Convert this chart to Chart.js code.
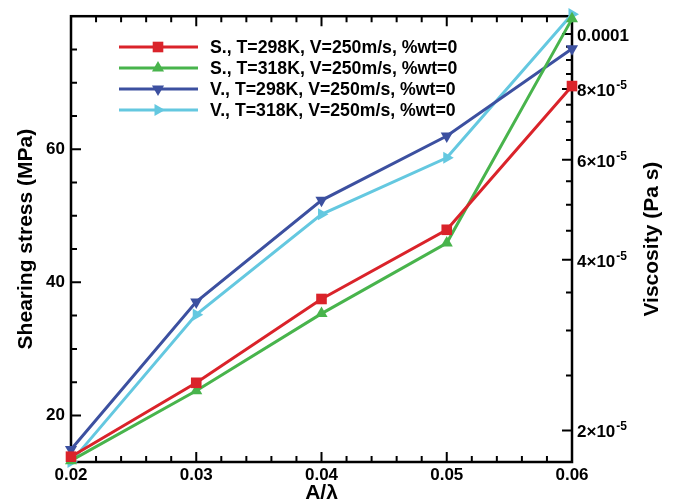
<!DOCTYPE html>
<html>
<head>
<meta charset="utf-8">
<script src="https://cdn.jsdelivr.net/npm/chart.js@4"></script>
<style>
  body { margin: 0; background: #fff; }
  canvas { display: block; }
</style>
</head>
<body>
<canvas id="grafico" width="677" height="502"></canvas>
<script>
// valores
const ratios = [0.02, 0.03, 0.04, 0.05, 0.06];
const stress298 = [13.8, 24.9, 37.5, 47.9, 69.5];
const stress318 = [13.2, 23.7, 35.3, 45.9, 79.6];
const visc298 = [1.85e-5, 3.37e-5, 5.09e-5, 6.61e-5, 9.42e-5];
const visc318 = [1.76e-5, 3.20e-5, 4.81e-5, 6.05e-5, 1.084e-4];

const seriesLabels = [
  "S., T=298K, V=250m/s, %wt=0",
  "S., T=318K, V=250m/s, %wt=0",
  "V., T=298K, V=250m/s, %wt=0",
  "V., T=318K, V=250m/s, %wt=0"
];

// ticks
const xTicks = [0.02, 0.03, 0.04, 0.05, 0.06];
const xMinorTicks = [0.022, 0.024, 0.026, 0.028, 0.032, 0.034, 0.036, 0.038, 0.042, 0.044, 0.046, 0.048, 0.052, 0.054, 0.056, 0.058];
const leftTicks = [20, 40, 60];
const leftMinorTicks = [25, 30, 35, 45, 50, 55, 65, 70, 75];
const rightTicks = [2e-5, 4e-5, 6e-5, 8e-5, 1e-4];
const rightTickBase = ["2×10", "4×10", "6×10", "8×10", "0.0001"];
const rightTickExp = ["-5", "-5", "-5", "-5", ""];
const rightMinorTicks = [2.5e-5, 3e-5, 3.5e-5, 4.5e-5, 5e-5, 5.5e-5, 6.5e-5, 7e-5, 7.5e-5, 8.5e-5, 9e-5, 9.5e-5];

const rojo = "rgb(218, 35, 42)";
const verde = "rgb(72, 180, 76)";
const azul = "rgb(60, 80, 160)";
const celeste = "rgb(100, 200, 224)";

const fuente = "'Liberation Sans', Arial, Helvetica, sans-serif";

function puntos(valores) {
  return ratios.map((r, i) => ({ x: r, y: valores[i] }));
}

function serie(label, valores, color, estilo, rot, radio, eje) {
  return {
    label: label,
    data: puntos(valores),
    yAxisID: eje,
    borderColor: color,
    backgroundColor: color,
    borderWidth: 3,
    pointStyle: estilo,
    pointRotation: rot,
    pointRadius: radio,
    pointBorderWidth: 0,
    pointBackgroundColor: color,
    tension: 0,
    clip: false
  };
}

const datasets = [
  serie(seriesLabels[0], stress298, rojo, "rect", 0, 7.5, "y"),
  serie(seriesLabels[1], stress318, verde, "triangle", 0, 7, "y"),
  serie(seriesLabels[2], visc298, azul, "triangle", 180, 7, "y1"),
  serie(seriesLabels[3], visc318, celeste, "triangle", 90, 7, "y1")
];

// marco, ticks hacia adentro, etiquetas del eje derecho, leyenda
const extras = {
  id: "extras",
  beforeDatasetsDraw(chart) {
    const ctx = chart.ctx;
    const a = chart.chartArea;
    const sx = chart.scales.x, sy = chart.scales.y, sy1 = chart.scales.y1;
    ctx.save();
    ctx.strokeStyle = "#000";
    ctx.lineWidth = 2;
    ctx.beginPath();
    xTicks.forEach(v => {
      const px = sx.getPixelForValue(v);
      ctx.moveTo(px, a.bottom); ctx.lineTo(px, a.bottom - 10);
      ctx.moveTo(px, a.top); ctx.lineTo(px, a.top + 10);
    });
    xMinorTicks.forEach(v => {
      const px = sx.getPixelForValue(v);
      ctx.moveTo(px, a.bottom); ctx.lineTo(px, a.bottom - 6);
      ctx.moveTo(px, a.top); ctx.lineTo(px, a.top + 6);
    });
    leftTicks.forEach(v => {
      const py = sy.getPixelForValue(v);
      ctx.moveTo(a.left, py); ctx.lineTo(a.left + 10, py);
    });
    leftMinorTicks.forEach(v => {
      const py = sy.getPixelForValue(v);
      ctx.moveTo(a.left, py); ctx.lineTo(a.left + 6, py);
    });
    rightTicks.forEach(v => {
      const py = sy1.getPixelForValue(v);
      ctx.moveTo(a.right, py); ctx.lineTo(a.right - 10, py);
    });
    rightMinorTicks.forEach(v => {
      const py = sy1.getPixelForValue(v);
      ctx.moveTo(a.right, py); ctx.lineTo(a.right - 6, py);
    });
    ctx.stroke();
    ctx.lineWidth = 2.5;
    ctx.strokeRect(a.left, a.top, a.right - a.left, a.bottom - a.top);

    // etiquetas del eje derecho con exponente
    ctx.fillStyle = "#000";
    ctx.textAlign = "left";
    ctx.textBaseline = "alphabetic";
    rightTicks.forEach((v, i) => {
      const py = sy1.getPixelForValue(v);
      const x0 = a.right + 5;
      ctx.font = "bold 17px " + fuente;
      ctx.fillText(rightTickBase[i], x0, py + 7);
      const w = ctx.measureText(rightTickBase[i]).width;
      if (rightTickExp[i]) {
        ctx.font = "bold 12px " + fuente;
        ctx.fillText(rightTickExp[i], x0 + w + 1, py);
      }
    });

    // titulo del eje derecho, leido de abajo hacia arriba
    ctx.font = "bold 21px " + fuente;
    ctx.textAlign = "center";
    ctx.textBaseline = "middle";
    ctx.translate(652, (a.top + a.bottom) / 2);
    ctx.rotate(-Math.PI / 2);
    ctx.fillText("Viscosity (Pa s)", 0, 0);
    ctx.restore();
  },
  afterDatasetsDraw(chart) {
    const ctx = chart.ctx;
    const filas = [47, 68, 89, 110];
    ctx.save();
    chart.data.datasets.forEach((ds, i) => {
      const y = filas[i];
      ctx.strokeStyle = ds.borderColor;
      ctx.lineWidth = 3;
      ctx.beginPath();
      ctx.moveTo(119, y);
      ctx.lineTo(198, y);
      ctx.stroke();
      ctx.fillStyle = ds.borderColor;
      Chart.helpers.drawPoint(ctx, {
        pointStyle: ds.pointStyle,
        rotation: ds.pointRotation,
        radius: ds.pointRadius,
        borderWidth: 0
      }, 158, y);
      ctx.fillStyle = "#000";
      ctx.font = "bold 17.7px " + fuente;
      ctx.textAlign = "left";
      ctx.textBaseline = "middle";
      ctx.fillText(ds.label, 210, y + 1);
    });
    ctx.restore();
  }
};

const tickFont = { family: fuente, size: 17, weight: "bold" };

new Chart(document.getElementById("grafico"), {
  type: "line",
  data: { datasets: datasets },
  plugins: [extras],
  options: {
    responsive: false,
    animation: false,
    devicePixelRatio: 1,
    layout: { padding: { top: 12, left: 0, right: 0, bottom: 0 } },
    plugins: {
      legend: { display: false },
      tooltip: { enabled: false }
    },
    scales: {
      x: {
        type: "linear",
        position: "bottom",
        min: 0.02,
        max: 0.06,
        afterFit: s => { s.height = 40; },
        afterBuildTicks: s => { s.ticks = xTicks.map(v => ({ value: v })); },
        grid: { display: false, drawTicks: false },
        border: { display: false },
        ticks: {
          font: tickFont,
          color: "#000",
          padding: 3,
          maxRotation: 0,
          callback: v => v.toFixed(2)
        },
        title: {
          display: true,
          text: "A/λ",
          color: "#000",
          font: { family: fuente, size: 21, weight: "bold", lineHeight: 0.8 },
          padding: { top: 0, bottom: 0 }
        }
      },
      y: {
        type: "linear",
        position: "left",
        min: 13,
        max: 80,
        afterFit: s => { s.width = 71; },
        afterBuildTicks: s => { s.ticks = leftTicks.map(v => ({ value: v })); },
        grid: { display: false, drawTicks: false },
        border: { display: false },
        ticks: { font: tickFont, color: "#000", padding: 6 },
        title: {
          display: true,
          text: "Shearing stress (MPa)",
          color: "#000",
          font: { family: fuente, size: 21, weight: "bold", lineHeight: 1 },
          padding: { top: 16, bottom: 0 }
        }
      },
      y1: {
        type: "logarithmic",
        position: "right",
        min: 1.759e-5,
        max: 1.075e-4,
        afterFit: s => { s.width = 105; },
        afterBuildTicks: s => { s.ticks = rightTicks.map(v => ({ value: v })); },
        grid: { display: false, drawTicks: false },
        border: { display: false },
        ticks: { display: false }
      }
    }
  }
});
</script>
</body>
</html>
